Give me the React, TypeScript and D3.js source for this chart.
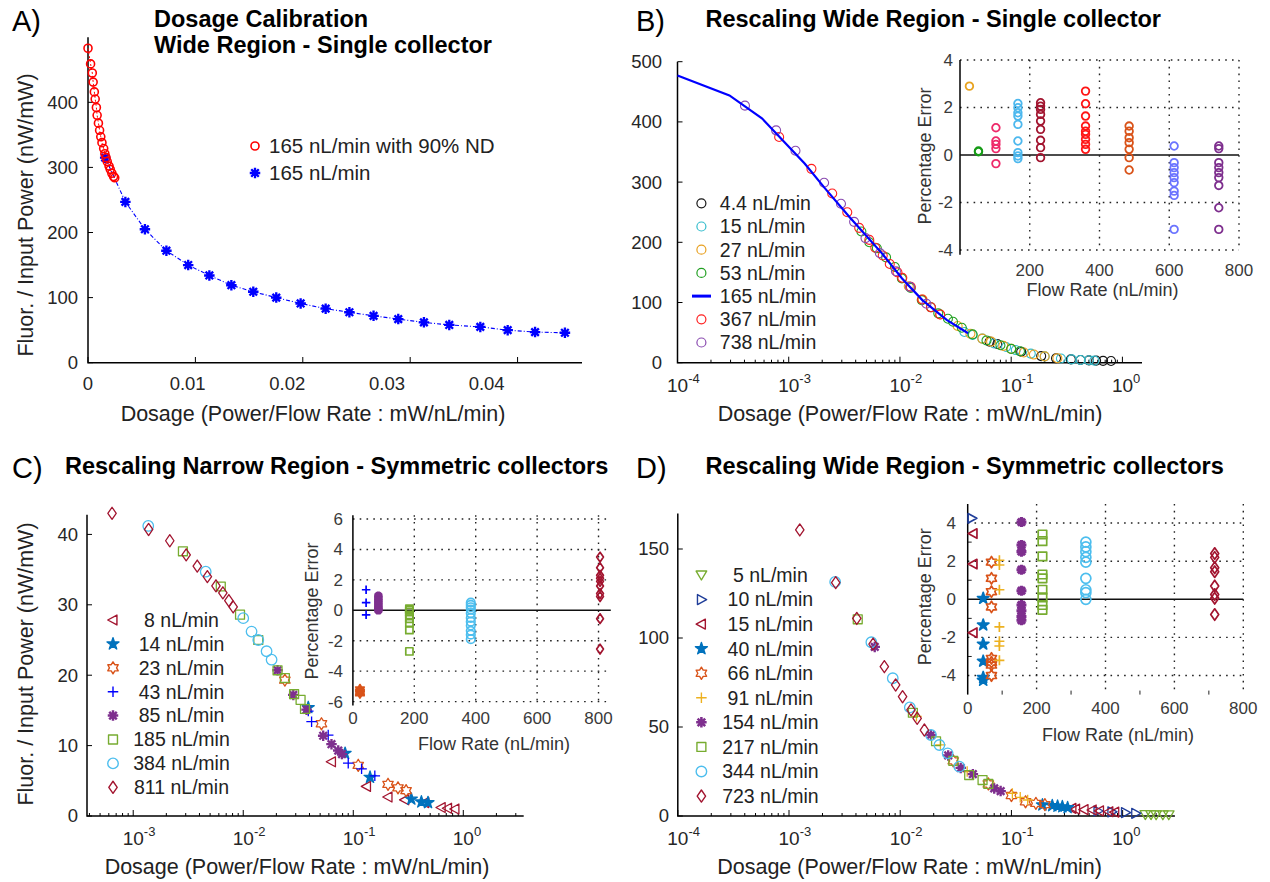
import React, { useRef, useEffect } from 'react';
import * as d3 from 'd3';

type Pt = [number, number];

const FONT = '"Liberation Sans", Arial, Helvetica, sans-serif';
const TICK_FILL = '#262626';

// ---------- A) Dosage calibration ----------
const calibNdDose = [0, 0.00024, 0.0004, 0.00048, 0.00059, 0.00067, 0.00078, 0.00085, 0.00097, 0.00108, 0.00119,
  0.0013, 0.00146, 0.00157, 0.00168, 0.00179, 0.00196, 0.00207, 0.00222, 0.00238, 0.00249];
const calibNdValue = [483, 459, 445, 431, 416, 405, 392, 380, 368, 357, 347, 338, 329, 321, 315, 309, 302, 297, 291, 286, 284];
const calibDose = [0.0016, 0.00348, 0.0053, 0.0073, 0.00933, 0.0113, 0.01335, 0.01539, 0.01753, 0.0198, 0.02213,
  0.02434, 0.02659, 0.02889, 0.03128, 0.03364, 0.03653, 0.03908, 0.04163, 0.04441];
const calibValue = [315, 247, 205, 172, 150, 134, 119, 109, 100, 91, 83, 77.5, 72, 67, 62, 58, 55, 50, 47, 46];
const calibXTicks = [0, 0.01, 0.02, 0.03, 0.04];
const calibYTicks = [0, 100, 200, 300, 400];
const calibLegend = ['165 nL/min with 90% ND', '165 nL/min'];

// ---------- B) Rescaling wide region, single collector ----------
const wideLabels = ['4.4 nL/min', '15 nL/min', '27 nL/min', '53 nL/min', '165 nL/min', '367 nL/min', '738 nL/min'];
const wideColors = ['#151515', '#33bccc', '#e8a020', '#22a022', '#0000ff', '#ff2020', '#8a4bb0'];
const wide4_4: Pt[] = [[0.064, 35], [0.075, 31], [0.123, 18.3], [0.186, 11], [0.253, 7.3], [0.344, 5.5], [0.42, 4.5],
  [0.5, 3.8], [0.58, 3.4], [0.67, 3.1], [0.79, 2.8]];
const wide15: Pt[] = [[0.038, 51], [0.045, 46], [0.055, 40], [0.07, 32], [0.09, 26], [0.11, 21], [0.15, 15], [0.2, 10.5],
  [0.28, 7], [0.35, 5.5], [0.42, 4.6], [0.5, 4], [0.56, 3.5]];
const wide27: Pt[] = [[0.012, 127], [0.016, 105], [0.023, 80], [0.033, 61], [0.043, 48], [0.055, 40], [0.066, 35],
  [0.085, 28], [0.1, 23], [0.13, 17], [0.16, 13.5], [0.2, 10.5], [0.26, 7.5]];
const wide53: Pt[] = [[0.0045, 218], [0.0053, 200], [0.0062, 190], [0.0075, 175], [0.009, 159], [0.0104, 140],
  [0.0125, 124], [0.0157, 104], [0.019, 92], [0.0221, 82], [0.027, 73], [0.03, 68], [0.036, 58], [0.045, 47],
  [0.06, 37], [0.08, 29], [0.1, 23], [0.12, 19]];
const wide165: Pt[] = [[1e-4, 477], [2.93e-4, 444], [5.74e-4, 406], [1.39e-3, 331], [2.11e-3, 290], [3.5e-3, 242.5],
  [6.86e-3, 182], [1.045e-2, 140], [1.59e-2, 104], [2.63e-2, 71], [4.1e-2, 49]];
const wide367: Pt[] = [[8.2e-4, 375], [1.6e-3, 322], [2.46e-3, 281], [3.36e-3, 250], [4.3e-3, 224], [5.3e-3, 204],
  [6.0e-3, 191], [7.0e-3, 178], [8.1e-3, 164], [9.5e-3, 150], [1.05e-2, 141], [1.25e-2, 126], [1.58e-2, 105],
  [1.9e-2, 92], [2.3e-2, 80]];
const wide738: Pt[] = [[4.04e-4, 427], [7.7e-4, 386], [1.15e-3, 352], [2.08e-3, 299], [2.95e-3, 264], [3.87e-3, 234],
  [4.9e-3, 207], [6.6e-3, 182], [9.2e-3, 152], [1.23e-2, 126], [1.73e-2, 98]];
const wideSeries = [wide4_4, wide15, wide27, wide53, wide165, wide367, wide738];

const wideErrFlow = [27, 53, 103, 166, 231, 360, 485, 614, 742];
const wideErrColors = ['#e8a31f', '#169b16', '#ee2a6a', '#4db8ee', '#a2142f', '#ff1515', '#d95319', '#6b74ff', '#7e2f8e'];
const wideErrValues = [
  [2.9],
  [0.17, 0.14],
  [1.15, 0.59, 0.45, 0.27, -0.36],
  [2.17, 1.99, 1.78, 1.64, 1.29, 0.59, 0.1, -0.04, -0.15],
  [2.2, 2.06, 1.92, 1.71, 1.43, 1.08, 0.62, 0.31, -0.11],
  [2.69, 2.16, 1.64, 1.22, 1.0, 0.87, 0.66, 0.45, 0.24],
  [1.22, 1.0, 0.73, 0.52, 0.24, -0.11, -0.63],
  [0.38, -0.32, -0.53, -0.74, -0.95, -1.16, -1.52, -1.7, -3.13],
  [0.38, 0.27, -0.32, -0.53, -0.74, -0.95, -1.28, -2.22, -3.13],
];

// ---------- C) Rescaling narrow region, symmetric collectors ----------
const narrowLabels = ['8 nL/min', '14 nL/min', '23 nL/min', '43 nL/min', '85 nL/min', '185 nL/min', '384 nL/min', '811 nL/min'];
const narrowShapes = ['triLeft', 'star', 'hexagram', 'plus', 'asterisk', 'square', 'circle', 'diamond'];
const narrowColors = ['#a2142f', '#0072bd', '#d95319', '#0000ff', '#7e2f8e', '#77ac30', '#4dbeee', '#a2142f'];
const narrow8: Pt[] = [[0.0634, 7.7], [0.132, 4.2], [0.207, 2.7], [0.294, 2.3], [0.447, 1.9], [0.63, 1.2], [0.72, 1.1], [0.84, 1.0]];
const narrow14: Pt[] = [[0.039, 15.4], [0.0843, 8.9], [0.142, 5.5], [0.337, 2.4], [0.416, 2.0], [0.478, 1.9]];
const narrow23: Pt[] = [[0.0239, 19.3], [0.0514, 13.1], [0.111, 7.2], [0.207, 4.5], [0.255, 4.0], [0.302, 3.6]];
const narrow43: Pt[] = [[0.039, 14.9], [0.0418, 13.4], [0.0592, 11.5], [0.09, 7.5], [0.119, 6.7], [0.157, 5.7]];
const narrow85: Pt[] = [[0.0205, 20.7], [0.0285, 17.2], [0.0376, 15.1], [0.0533, 11.4], [0.0634, 10.2], [0.073, 9.3], [0.079, 8.8]];
const narrow185: Pt[] = [[0.00283, 37.6], [0.00625, 32.6], [0.00935, 28.6], [0.0137, 25.0], [0.0205, 20.7], [0.0239, 19.6],
  [0.029, 17.3], [0.0332, 16.5], [0.0364, 15.2]];
const narrow384: Pt[] = [[0.00137, 41.2], [0.00456, 34.7], [0.01, 28.1], [0.0119, 26.2], [0.0137, 25.0], [0.0163, 23.4], [0.0181, 22.2]];
const narrow811: Pt[] = [[0.000642, 43.0], [0.00138, 40.7], [0.00215, 39.1], [0.00303, 37.1], [0.00382, 35.5], [0.00472, 34.0],
  [0.00565, 32.7], [0.00653, 31.7], [0.0074, 30.6], [0.0081, 29.7]];
const narrowSeries = [narrow8, narrow14, narrow23, narrow43, narrow85, narrow185, narrow384, narrow811];

const narrowErrSeries = [2, 3, 4, 5, 6, 7];
const narrowErrFlow = [23, 43, 83, 184, 384, 805];
const narrowErrValues = [
  [-5.2, -5.35, -5.45],
  [1.35, 0.5, -0.3],
  [0.95, 0.8, 0.65, 0.5, 0.35, 0.2, 0.08, 0.0],
  [0.1, 0.0, -0.12, -0.3, -0.55, -0.85, -1.3, -2.7],
  [0.5, 0.35, 0.2, 0.05, -0.2, -0.5, -0.75, -1.0, -1.35, -1.6, -1.9],
  [3.5, 2.8, 2.3, 2.1, 1.9, 1.6, 1.1, 0.9, -0.55, -2.55],
];

// ---------- D) Rescaling wide region, symmetric collectors ----------
const symLabels = ['5 nL/min', '10 nL/min', '15 nL/min', '40 nL/min', '66 nL/min', '91 nL/min', '154 nL/min', '217 nL/min', '344 nL/min', '723 nL/min'];
const symShapes = ['triDown', 'triRight', 'triLeft', 'star', 'hexagram', 'plus', 'asterisk', 'square', 'circle', 'diamond'];
const symColors = ['#77ac30', '#1f3d99', '#a2142f', '#0072bd', '#d95319', '#edb120', '#7e2f8e', '#77ac30', '#4dbeee', '#a2142f'];
const sym5: Pt[] = [[1.6, 0.8], [1.8, 0.8], [2.0, 0.7], [2.3, 0.7], [2.6, 0.7]];
const sym10: Pt[] = [[0.6, 2.8], [0.8, 2.3], [1.06, 1.9], [1.31, 1.5]];
const sym15: Pt[] = [[0.35, 4.3], [0.378, 3.9], [0.45, 3.6], [0.533, 3.4], [0.62, 2.9], [0.752, 2.4], [0.85, 2.2]];
const sym40: Pt[] = [[0.19, 6.2], [0.233, 5.8], [0.26, 5.5], [0.287, 5.2], [0.32, 4.7]];
const sym66: Pt[] = [[0.03, 31], [0.062, 18], [0.1, 11.5], [0.134, 8.0], [0.166, 7.1], [0.2, 6.4]];
const sym91: Pt[] = [[0.014, 56], [0.023, 40], [0.04, 25], [0.07, 16], [0.102, 12.7], [0.12, 10.5], [0.14, 9]];
const sym154: Pt[] = [[0.0059, 95], [0.0189, 45.5], [0.027, 34], [0.035, 27], [0.045, 23.5], [0.07, 15.5], [0.08, 14]];
const sym217: Pt[] = [[0.00415, 110.5], [0.013, 58], [0.021, 42], [0.03, 31], [0.0417, 23], [0.055, 20.2], [0.062, 18]];
const sym344: Pt[] = [[0.0026, 131.5], [0.0055, 97.6], [0.00857, 77.4], [0.0122, 61], [0.0189, 45.5], [0.0225, 39.9],
  [0.0267, 35.2], [0.034, 27.7]];
const sym723: Pt[] = [[0.00125, 160.7], [0.00263, 131.1], [0.00407, 111], [0.0057, 96.6], [0.0072, 83.9], [0.0091, 73.6],
  [0.0105, 67], [0.0125, 59.6], [0.0142, 54.9], [0.0165, 48.3]];
const symSeries = [sym5, sym10, sym15, sym40, sym66, sym91, sym154, sym217, sym344, sym723];

const symErrSeries = [1, 2, 3, 4, 5, 6, 7, 8, 9];
const symErrFlow = [12, 16, 45, 69, 92, 156, 217, 343, 717];
const symErrValues = [
  [4.25],
  [3.45, 1.85, -1.75],
  [0.05, -1.35, -2.35, -3.25, -4.1, -4.25],
  [1.95, 1.1, 0.4, -0.4, -3.1, -3.3, -3.45, -4.0],
  [2.05, 1.8, 0.5, -1.45, -2.2, -2.45, -3.2],
  [4.05, 2.85, 2.5, 1.55, 0.45, -0.3, -0.6, -0.9, -1.1],
  [3.4, 3.05, 2.25, 1.3, 1.1, 0.5, 0.1, -0.3, -0.55],
  [3.0, 2.75, 2.5, 2.2, 1.95, 1.1, 0.5, 0.35, 0.0],
  [2.4, 2.2, 1.65, 1.45, 0.7, 0.25, 0.05, -0.8],
];

const XLABEL = 'Dosage (Power/Flow Rate : mW/nL/min)';
const YLABEL = 'Fluor. / Input Power (nW/mW)';

// marker outlines centred on 0,0
function markerPath(shape: string, s: number): string {
  const r = s / 2;
  switch (shape) {
    case 'circle':
      return `M${r},0A${r},${r},0,1,1,${-r},0A${r},${r},0,1,1,${r},0Z`;
    case 'square': {
      const h = r * 0.85;
      return `M${-h},${-h}H${h}V${h}H${-h}Z`;
    }
    case 'diamond':
      return `M0,${-r * 1.15}L${r * 0.8},0L0,${r * 1.15}L${-r * 0.8},0Z`;
    case 'triLeft':
      return `M${-r},0L${r * 0.75},${-r * 0.95}L${r * 0.75},${r * 0.95}Z`;
    case 'triRight':
      return `M${r},0L${-r * 0.75},${-r * 0.95}L${-r * 0.75},${r * 0.95}Z`;
    case 'triDown':
      return `M0,${r * 0.95}L${-r},${-r * 0.75}L${r},${-r * 0.75}Z`;
    case 'star': {
      const outer = r * 1.2;
      return d3.symbol(d3.symbolStar, (outer * outer) / 0.89)() || '';
    }
    case 'hexagram': {
      const pts = d3.range(12).map(i => {
        const a = -Math.PI / 2 + (i * Math.PI) / 6;
        const rr = i % 2 === 0 ? r * 1.15 : r * 0.68;
        return `${rr * Math.cos(a)},${rr * Math.sin(a)}`;
      });
      return 'M' + pts.join('L') + 'Z';
    }
    case 'plus':
      return `M${-r},0H${r}M0,${-r}V${r}`;
    case 'asterisk': {
      const d = r * 0.72;
      return `M${-r},0H${r}M0,${-r}V${r}M${-d},${-d}L${d},${d}M${-d},${d}L${d},${-d}`;
    }
  }
  return '';
}

function drawMarkers(g: any, pts: Pt[], x: any, y: any, shape: string, color: string, size: number, width: number, filled = false) {
  const solid = filled || shape === 'star';
  g.append('g')
    .selectAll('path')
    .data(pts)
    .join('path')
    .attr('d', markerPath(shape, size))
    .attr('transform', (d: Pt) => `translate(${x(d[0])},${y(d[1])})`)
    .attr('fill', solid ? color : 'none')
    .attr('stroke', color)
    .attr('stroke-width', shape === 'asterisk' ? width * 1.8 : width)
    .attr('stroke-linejoin', 'round');
}

function text(g: any, x: number, y: number, str: string, size: number, opts: any = {}) {
  const t = g.append('text')
    .attr('font-size', size)
    .attr('fill', opts.fill || '#000')
    .attr('font-weight', opts.weight || 'normal')
    .attr('text-anchor', opts.anchor || 'start');
  if (opts.rotate) {
    t.attr('transform', `translate(${x},${y}) rotate(-90)`).attr('dy', '0.35em');
  } else {
    t.attr('x', x).attr('y', y);
    if (opts.middle) t.attr('dy', '0.35em');
  }
  t.text(str);
  return t;
}

function axisFrame(g: any, x: any, y: any) {
  const [xa, xb] = x.range();
  const [yb, yt] = y.range();
  g.append('path')
    .attr('d', `M${xa},${yt}V${yb}H${xb}`)
    .attr('fill', 'none')
    .attr('stroke', '#000')
    .attr('stroke-width', 1.5);
}

function yAxisLinear(g: any, y: any, xa: number, ticks: number[], labelEnd: number, size: number, fill = TICK_FILL) {
  ticks.forEach(v => {
    g.append('line').attr('x1', xa).attr('x2', xa + 5).attr('y1', y(v)).attr('y2', y(v)).attr('stroke', '#000');
    text(g, labelEnd, y(v), String(v), size, { anchor: 'end', middle: true, fill });
  });
}

function xAxisLog(g: any, x: any, yb: number, exps: number[], labelBase: number) {
  x.ticks().forEach((v: number) => {
    const lg = Math.log10(v);
    const major = Math.abs(lg - Math.round(lg)) < 1e-6;
    g.append('line').attr('x1', x(v)).attr('x2', x(v)).attr('y1', yb).attr('y2', yb - (major ? 6 : 3))
      .attr('stroke', '#000').attr('stroke-width', 1);
  });
  exps.forEach(e => {
    const t = g.append('text').attr('x', x(Math.pow(10, e)) - 10.5).attr('y', labelBase)
      .attr('font-size', 19).attr('fill', TICK_FILL);
    t.append('tspan').text('10');
    t.append('tspan').attr('dy', -9).attr('font-size', 13).text(String(e));
  });
}

function insetFrame(g: any, x: any, y: any, cfg: any) {
  const [xa, xb] = x.range();
  const [yb, yt] = y.range();
  const dotted = (l: any) => l.attr('stroke', '#222').attr('stroke-width', 1.4).attr('stroke-dasharray', '1.6,5.2');
  cfg.yGrid.forEach((v: number) =>
    dotted(g.append('line').attr('x1', xa).attr('x2', xb).attr('y1', y(v)).attr('y2', y(v))));
  cfg.xGrid.forEach((v: number) =>
    dotted(g.append('line').attr('x1', x(v)).attr('x2', x(v)).attr('y1', y(cfg.gridTop)).attr('y2', y(cfg.gridBottom))));
  (cfg.minorX || []).forEach((v: number) =>
    g.append('line').attr('x1', x(v)).attr('x2', x(v)).attr('y1', yb).attr('y2', yb - 4).attr('stroke', '#222'));
  (cfg.minorY || []).forEach((v: number) =>
    g.append('line').attr('x1', xa).attr('x2', xa + 4).attr('y1', y(v)).attr('y2', y(v)).attr('stroke', '#222'));
  g.append('line').attr('x1', xa).attr('x2', xa).attr('y1', yb).attr('y2', yt).attr('stroke', '#000').attr('stroke-width', 1.5);
  g.append('line').attr('x1', xa).attr('x2', xb).attr('y1', y(0)).attr('y2', y(0)).attr('stroke', '#111').attr('stroke-width', 1.5);
  cfg.yTicks.forEach((v: number) => text(g, cfg.yLabelEnd, y(v), String(v), 17, { anchor: 'end', middle: true, fill: '#3a3a3a' }));
  cfg.xTicks.forEach((v: number) => text(g, x(v), cfg.xLabelY, String(v), 17, { anchor: 'middle', middle: true, fill: '#3a3a3a' }));
  text(g, cfg.errPos[0], cfg.errPos[1], 'Percentage Error', 18, { anchor: 'middle', rotate: true, fill: '#333' });
  text(g, cfg.flowPos[0], cfg.flowPos[1], 'Flow Rate (nL/min)', 18, { anchor: 'middle', middle: true, fill: '#333' });
}

function drawCalibration(root: any) {
  const g = root.append('g');
  const x = d3.scaleLinear().domain([0, 0.046]).range([88, 582]);
  const y = d3.scaleLinear().domain([0, 500]).range([362.7, 37.2]);

  text(g, 12, 30.5, 'A)', 29);
  text(g, 154, 26.5, 'Dosage Calibration', 23.5, { weight: 'bold' });
  text(g, 154, 53, 'Wide Region - Single collector', 23.5, { weight: 'bold' });

  axisFrame(g, x, y);
  yAxisLinear(g, y, 88, calibYTicks, 78, 18.5);
  calibXTicks.forEach(v => {
    g.append('line').attr('x1', x(v)).attr('x2', x(v)).attr('y1', 362.7).attr('y2', 357).attr('stroke', '#000');
    // tick labels in the source figure sit slightly inboard of their ticks
    const lx = 88 + (x(v) - 88) * 0.928;
    text(g, lx, 383.5, String(v), 18.5, { anchor: 'middle', middle: true, fill: TICK_FILL });
  });
  text(g, 313, 413.5, XLABEL, 21.5, { anchor: 'middle', middle: true, fill: '#222' });
  text(g, 25, 215, YLABEL, 21.5, { anchor: 'middle', rotate: true, fill: '#222' });

  const blue: Pt[] = calibDose.map((d, i) => [d, calibValue[i]]);
  const red: Pt[] = calibNdDose.map((d, i) => [d, calibNdValue[i]]);
  const line = d3.line<Pt>().x(d => x(d[0])).y(d => y(d[1]));
  g.append('path').attr('d', line(red)).attr('fill', 'none').attr('stroke', '#ff0000').attr('stroke-width', 1).attr('stroke-dasharray', '2,2');
  g.append('path').attr('d', line(blue)).attr('fill', 'none').attr('stroke', '#0000ff').attr('stroke-width', 1.1).attr('stroke-dasharray', '4,2,1,2');
  drawMarkers(g, blue, x, y, 'asterisk', '#0000ff', 10.5, 1.3);
  drawMarkers(g, red, x, y, 'circle', '#ff0000', 8, 1.6);

  // legend
  const lg = g.append('g');
  const lx = (v: number) => v;
  drawMarkers(lg, [[255, 146]], lx, lx, 'circle', '#ff0000', 8, 1.6);
  drawMarkers(lg, [[255, 173]], lx, lx, 'asterisk', '#0000ff', 10.5, 1.3);
  text(lg, 269, 146, calibLegend[0], 20.5, { middle: true, fill: '#222' });
  text(lg, 269, 173, calibLegend[1], 20.5, { middle: true, fill: '#222' });
}

function drawWideSingle(root: any) {
  const g = root.append('g');
  const x = d3.scaleLog().domain([1e-4, 1.5]).range([677.5, 1142]);
  const y = d3.scaleLinear().domain([0, 500]).range([362.7, 61.7]);

  text(g, 636, 30.5, 'B)', 29);
  text(g, 705.5, 26.7, 'Rescaling Wide Region - Single collector', 23.5, { weight: 'bold' });

  axisFrame(g, x, y);
  yAxisLinear(g, y, 677.5, [0, 100, 200, 300, 400, 500], 662, 18.5);
  xAxisLog(g, x, 362.7, [-4, -3, -2, -1, 0], 391.5);
  text(g, 910, 413.5, XLABEL, 21.5, { anchor: 'middle', middle: true, fill: '#222' });

  const order = [0, 1, 2, 3, 5, 6];
  order.forEach(i => drawMarkers(g, wideSeries[i], x, y, 'circle', wideColors[i], 9, 1.1));
  const line = d3.line<Pt>().x(d => x(d[0])).y(d => y(d[1]));
  g.append('path').attr('d', line(wide165)).attr('fill', 'none').attr('stroke', wideColors[4]).attr('stroke-width', 2.2);

  // legend
  const id = (v: number) => v;
  wideLabels.forEach((lab, i) => {
    const ry = 203.3 + i * 23.2;
    if (i === 4) {
      g.append('line').attr('x1', 692).attr('x2', 711).attr('y1', ry).attr('y2', ry).attr('stroke', wideColors[4]).attr('stroke-width', 3);
    } else {
      drawMarkers(g, [[701.4, ry]], id, id, 'circle', wideColors[i], 9, 1.2);
    }
    text(g, 719.8, ry, lab, 19.5, { middle: true, fill: '#222' });
  });

  // inset
  const ix = d3.scaleLinear().domain([0, 800]).range([960, 1239]);
  const iy = d3.scaleLinear().domain([-4.2, 4]).range([254.8, 60]);
  const ig = g.append('g');
  insetFrame(ig, ix, iy, {
    yGrid: [4, 2, -2, -4], xGrid: [200, 400, 600, 800], gridTop: 4, gridBottom: -4,
    yTicks: [4, 2, 0, -2, -4], xTicks: [200, 400, 600, 800], yLabelEnd: 953, xLabelY: 270,
    errPos: [925, 156], flowPos: [1102.5, 290],
  });
  wideErrValues.forEach((vals, i) => {
    const pts: Pt[] = vals.map(v => [wideErrFlow[i], v]);
    drawMarkers(ig, pts, ix, iy, 'circle', wideErrColors[i], 7.6, 1.8);
  });
}

function drawNarrowSym(root: any) {
  const g = root.append('g');
  const x = d3.scaleLog().domain([Math.pow(10, -3.42), Math.pow(10, 0.549)]).range([87, 523.7]);
  const y = d3.scaleLinear().domain([0, 42.8]).range([816, 514.7]);

  text(g, 12, 478, 'C)', 29);
  text(g, 65, 473.5, 'Rescaling Narrow Region - Symmetric collectors', 23.5, { weight: 'bold' });

  axisFrame(g, x, y);
  yAxisLinear(g, y, 87, [0, 10, 20, 30, 40], 78, 18.5);
  xAxisLog(g, x, 816, [-3, -2, -1, 0], 845);
  text(g, 297, 866.7, XLABEL, 21.5, { anchor: 'middle', middle: true, fill: '#222' });
  text(g, 25, 664, YLABEL, 21.5, { anchor: 'middle', rotate: true, fill: '#222' });

  narrowSeries.forEach((pts, i) => drawMarkers(g, pts, x, y, narrowShapes[i], narrowColors[i], 10.5, 1.3));

  const id = (v: number) => v;
  narrowLabels.forEach((lab, i) => {
    const ry = 620 + i * 23.9;
    drawMarkers(g, [[113, ry]], id, id, narrowShapes[i], narrowColors[i], 10.5, 1.4);
    text(g, 181.5, ry, lab, 19.5, { anchor: 'middle', middle: true, fill: '#222' });
  });

  const ix = d3.scaleLinear().domain([0, 840]).range([352.9, 610.8]);
  const iy = d3.scaleLinear().domain([-6.25, 6.25]).range([705.4, 515.2]);
  const ig = g.append('g');
  insetFrame(ig, ix, iy, {
    yGrid: [6, 4, 2, -2, -4, -6], xGrid: [200, 400, 600, 800], gridTop: 6.25, gridBottom: -6.25,
    yTicks: [6, 4, 2, 0, -2, -4, -6], xTicks: [0, 200, 400, 600, 800], yLabelEnd: 343, xLabelY: 718.3,
    errPos: [312, 611], flowPos: [494, 743.3],
  });
  narrowErrValues.forEach((vals, k) => {
    const s = narrowErrSeries[k];
    const pts: Pt[] = vals.map(v => [narrowErrFlow[k], v]);
    drawMarkers(ig, pts, ix, iy, narrowShapes[s], narrowColors[s], 8.5, 1.7, s === 2);
  });
}

function drawWideSym(root: any) {
  const g = root.append('g');
  const x = d3.scaleLog().domain([1e-4, Math.pow(10, 0.47)]).range([677.8, 1174.9]);
  const y = d3.scaleLinear().domain([0, 170]).range([816, 513.4]);

  text(g, 636, 478, 'D)', 29);
  text(g, 705.5, 473.5, 'Rescaling Wide Region - Symmetric collectors', 23.5, { weight: 'bold' });

  axisFrame(g, x, y);
  yAxisLinear(g, y, 677.8, [0, 50, 100, 150], 669, 18.5);
  xAxisLog(g, x, 816, [-4, -3, -2, -1, 0], 845);
  text(g, 909.6, 866.7, XLABEL, 21.5, { anchor: 'middle', middle: true, fill: '#222' });

  symSeries.forEach((pts, i) => drawMarkers(g, pts, x, y, symShapes[i], symColors[i], 10.5, 1.3));

  const id = (v: number) => v;
  symLabels.forEach((lab, i) => {
    const ry = 575 + i * 24.56;
    drawMarkers(g, [[701.4, ry]], id, id, symShapes[i], symColors[i], 10.5, 1.4);
    text(g, 770.4, ry, lab, 19.5, { anchor: 'middle', middle: true, fill: '#222' });
  });

  const ix = d3.scaleLinear().domain([0, 800]).range([967.7, 1243.3]);
  const iy = d3.scaleLinear().domain([-5, 5]).range([694.6, 504]);
  const ig = g.append('g');
  insetFrame(ig, ix, iy, {
    yGrid: [4, 2, -2, -4], xGrid: [200, 400, 600, 800], gridTop: 5, gridBottom: -5,
    minorX: [100, 300, 500, 700], minorY: [3, 1, -1, -3],
    yTicks: [4, 2, 0, -2, -4], xTicks: [0, 200, 400, 600, 800], yLabelEnd: 956, xLabelY: 708.3,
    errPos: [925, 596.7], flowPos: [1118, 735],
  });
  symErrValues.forEach((vals, k) => {
    const s = symErrSeries[k];
    const pts: Pt[] = vals.map(v => [symErrFlow[k], v]);
    drawMarkers(ig, pts, ix, iy, symShapes[s], symColors[s], 10, 1.7);
  });
}

const App = () => {
  const ref = useRef<SVGSVGElement>(null);

  useEffect(() => {
    const svg = d3.select(ref.current);
    svg.selectAll('*').remove();
    svg.append('rect').attr('width', 1270).attr('height', 882).attr('fill', '#fff');
    const root = svg.append('g').attr('font-family', FONT);
    drawCalibration(root);
    drawWideSingle(root);
    drawNarrowSym(root);
    drawWideSym(root);
  }, []);

  return <svg ref={ref} width={1270} height={882} style={{ position: 'absolute', left: 0, top: 0 }} />;
};

export default App;
